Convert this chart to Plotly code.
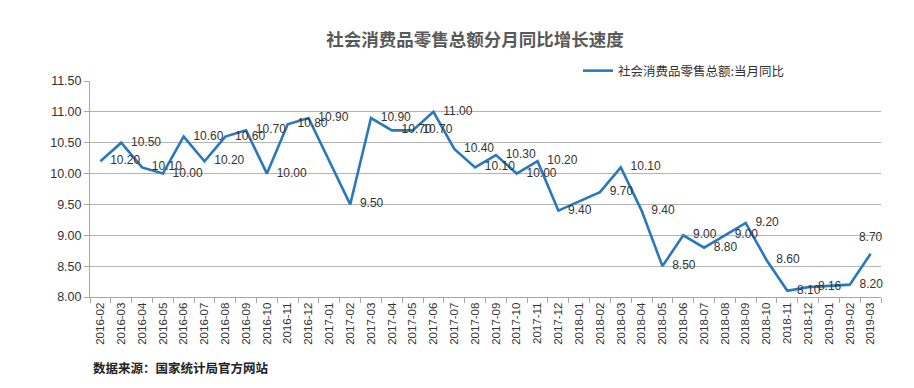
import plotly.graph_objects as go

months = [
    "2016-02", "2016-03", "2016-04", "2016-05", "2016-06", "2016-07", "2016-08",
    "2016-09", "2016-10", "2016-11", "2016-12", "2017-01", "2017-02", "2017-03",
    "2017-04", "2017-05", "2017-06", "2017-07", "2017-08", "2017-09", "2017-10",
    "2017-11", "2017-12", "2018-01", "2018-02", "2018-03", "2018-04", "2018-05",
    "2018-06", "2018-07", "2018-08", "2018-09", "2018-10", "2018-11", "2018-12",
    "2019-01", "2019-02", "2019-03",
]
growth = [
    10.20, 10.50, 10.10, 10.00, 10.60, 10.20, 10.60,
    10.70, 10.00, 10.80, 10.90, None, 9.50, 10.90,
    10.70, 10.70, 11.00, 10.40, 10.10, 10.30, 10.00,
    10.20, 9.40, None, 9.70, 10.10, 9.40, 8.50,
    9.00, 8.80, 9.00, 9.20, 8.60, 8.10, 8.16,
    None, 8.20, 8.70,
]
series_name = "社会消费品零售总额:当月同比"
title_text = "社会消费品零售总额分月同比增长速度"
source_text = "数据来源：国家统计局官方网站"

labels = ["" if v is None else f"{v:.2f}" for v in growth]
positions = ["middle right"] * len(growth)
positions[-1] = "top center"

W, H = 914, 388
L, R, T, B = 82, 41, 73, 99
pw, ph = W - L - R, H - T - B

fig = go.Figure()
fig.add_trace(go.Scatter(
    x=months, y=growth, name=series_name,
    mode="lines+markers+text",
    connectgaps=True,
    line=dict(color="#2878BE", width=2.6),
    marker=dict(size=14, color="rgba(0,0,0,0)"),
    text=labels, textposition=positions,
    textfont=dict(family="Liberation Sans, Arial, sans-serif", size=12, color="#333333"),
    cliponaxis=False,
))

fig.update_layout(
    width=W, height=H,
    margin=dict(l=L, r=R, t=T, b=B, autoexpand=False),
    paper_bgcolor="white", plot_bgcolor="white",
    font=dict(family="Liberation Sans, Arial, Noto Sans CJK SC", color="#333333"),
    title=dict(
        text=f"<b>{title_text}</b>",
        x=467 / W, xanchor="center", xref="container",
        y=1 - 32 / H, yanchor="middle", yref="container",
        font=dict(family="Noto Sans CJK SC", size=17.5, color="#595959"),
    ),
    showlegend=True,
    legend=dict(
        x=(570 - L) / pw, xanchor="left",
        y=(H - B - 63) / ph, yanchor="middle",
        font=dict(family="Noto Sans CJK SC", size=12.5, color="#333333"),
        bgcolor="rgba(0,0,0,0)", itemwidth=30,
    ),
    xaxis=dict(
        type="category", tickangle=-90, automargin=False,
        tickfont=dict(family="Liberation Sans, Arial", size=11.5, color="#333333"),
        showgrid=False, showline=True, linecolor="#a6a6a6", linewidth=1,
        ticks="outside", tickson="boundaries", ticklen=5, tickcolor="#a6a6a6",
        range=[-0.5, len(months) - 0.5],
    ),
    yaxis=dict(
        range=[8, 11.5], dtick=0.5, tick0=8, tickformat=".2f", automargin=False,
        tickfont=dict(family="Liberation Sans, Arial", size=12.5, color="#333333"),
        showgrid=True, gridcolor="#b3b3b3", gridwidth=1,
        showline=True, linecolor="#a6a6a6", linewidth=1,
        ticks="outside", ticklen=5, tickcolor="#a6a6a6",
        zeroline=False,
    ),
    annotations=[dict(
        text=f"<b>{source_text}</b>",
        xref="paper", yref="paper",
        x=(83 - L) / pw, xanchor="left",
        y=(H - B - 359) / ph, yanchor="middle",
        showarrow=False,
        font=dict(family="Noto Sans CJK SC", size=12.5, color="#222222"),
    )],
)

fig.write_html("out.html")
